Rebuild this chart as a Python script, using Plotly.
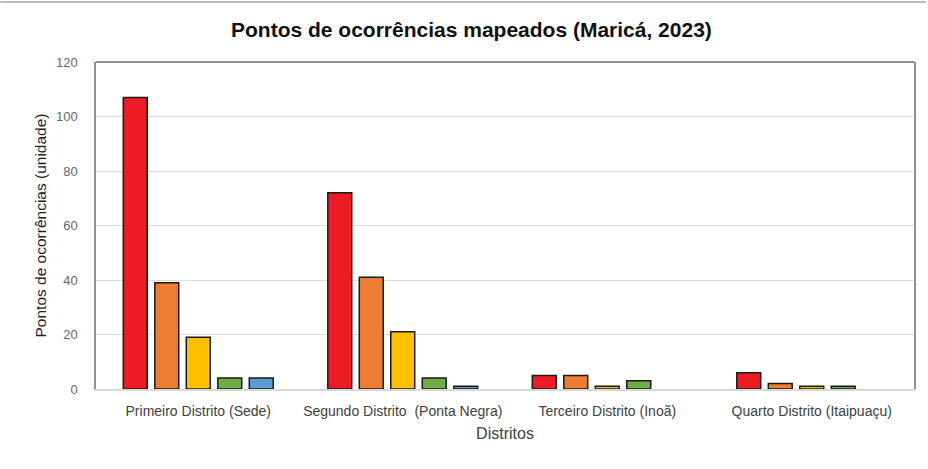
import plotly.graph_objects as go

categories = ["Primeiro Distrito (Sede)", "Segundo Distrito  (Ponta Negra)",
              "Terceiro Distrito (Inoã)", "Quarto Distrito (Itaipuaçu)"]
series_names = ["Série 1", "Série 2", "Série 3", "Série 4", "Série 5"]
s1 = [107, 72, 5, 6]
s2 = [39, 41, 5, 2]
s3 = [19, 21, 1, 1]
s4 = [4, 4, 3, 1]
s5 = [4, 1, None, None]
colors = ["#ED1C24", "#ED7D31", "#FFC000", "#70AD47", "#5B9BD5"]
y_ticks = [0, 20, 40, 60, 80, 100, 120]

W, H = 928, 469
ML, MR, MT, MB = 96, 12, 62, 80
FONT = "Liberation Sans Narrow, Liberation Sans, Arial, sans-serif"

fig = go.Figure()
for name, vals, col in zip(series_names, [s1, s2, s3, s4, s5], colors):
    fig.add_trace(go.Bar(x=categories, y=vals, name=name,
                         marker=dict(color=col, line=dict(color="#1a1a1a", width=1.5))))

plot_h = H - MT - MB
fig.update_layout(
    width=W, height=H,
    margin=dict(l=ML, r=MR, t=MT, b=MB),
    paper_bgcolor="white", plot_bgcolor="white",
    showlegend=False,
    barmode="group", bargap=0.23, bargroupgap=0.24,
    font=dict(family=FONT, color="#595959", size=12),
    title=dict(text="<b>Pontos de ocorrências mapeados (Maricá, 2023)</b>",
               x=0.508, xanchor="center", y=1 - 30 / H, yanchor="middle",
               font=dict(family=FONT, size=21, color="#111111")),
    xaxis=dict(showline=True, linecolor="#d9d9d9", linewidth=1.5,
               tickfont=dict(size=14, color="#404040"),
               ticks="", ticklabelstandoff=8,
               title=dict(text="Distritos", font=dict(size=16, color="#404040"), standoff=10)),
    yaxis=dict(range=[0, 120], tickvals=y_ticks, showgrid=True, gridcolor="#dcdcdc",
               gridwidth=1.2, showline=True, mirror=True, linecolor="#8f8f8f", linewidth=1.5,
               zeroline=False, ticks="", ticklabelstandoff=14,
               tickfont=dict(size=13, color="#666666"),
               title=dict(text="Pontos de ocorrências (unidade)",
                          font=dict(size=15.5, color="#222222"), standoff=6)),
    shapes=[
        dict(type="line", xref="paper", yref="paper", x0=0, x1=1, y0=1, y1=1,
             line=dict(color="#8f8f8f", width=2)),
        dict(type="line", xref="paper", yref="paper",
             x0=-ML / (W - ML - MR), x1=1 + MR / (W - ML - MR),
             y0=1 + (MT - 2) / plot_h, y1=1 + (MT - 2) / plot_h,
             line=dict(color="#bdbdbd", width=2)),
    ],
)

fig.write_html("out.html", config={"displayModeBar": False},
               post_script="document.body.style.margin='0';document.body.style.overflow='hidden';")
